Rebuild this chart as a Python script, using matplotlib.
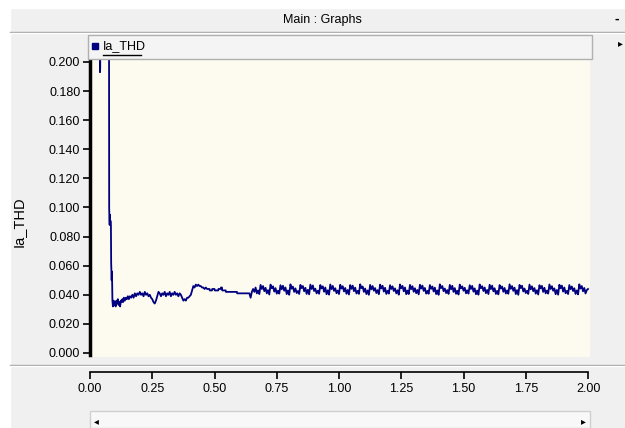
import numpy as np
import matplotlib
matplotlib.use("Agg")
import matplotlib.pyplot as plt
from matplotlib.patches import Rectangle
from matplotlib.lines import Line2D

plt.rcParams['font.family'] = ['Liberation Sans', 'DejaVu Sans']

# start-up transient of Ia_THD (time in s, value in pu)
t_start = [0.000, 0.039, 0.040, 0.041, 0.042, 0.076, 0.077, 0.078, 0.079, 0.080,
           0.081, 0.082, 0.084, 0.085, 0.086, 0.087, 0.088, 0.089, 0.090, 0.092,
           0.095, 0.098, 0.100, 0.103, 0.106, 0.109, 0.112, 0.115, 0.118, 0.121,
           0.124, 0.127, 0.130, 0.133, 0.136, 0.140, 0.144, 0.148, 0.152, 0.156,
           0.160, 0.165, 0.170, 0.175, 0.180, 0.185, 0.190, 0.195, 0.200, 0.205,
           0.210, 0.215, 0.220, 0.225, 0.230, 0.235, 0.240, 0.245, 0.250, 0.255,
           0.260, 0.265, 0.270, 0.275, 0.280, 0.285, 0.290, 0.295, 0.300, 0.305,
           0.310, 0.315, 0.320, 0.325, 0.330, 0.335, 0.340, 0.345, 0.350, 0.355,
           0.360, 0.365, 0.370, 0.375, 0.380, 0.385, 0.390, 0.395, 0.400, 0.405,
           0.410, 0.415, 0.420, 0.425, 0.430, 0.435, 0.440, 0.445, 0.450, 0.455,
           0.460, 0.465, 0.470, 0.480, 0.481, 0.490, 0.491, 0.500, 0.501, 0.515,
           0.516, 0.525, 0.526, 0.530, 0.531, 0.545, 0.546, 0.590, 0.591, 0.640,
           0.645, 0.650, 0.655, 0.660, 0.665, 0.670, 0.675]
v_start = [0.300, 0.300, 0.193, 0.196, 0.300, 0.300, 0.100, 0.092, 0.088, 0.095,
           0.089, 0.091, 0.088, 0.062, 0.055, 0.050, 0.056, 0.048, 0.036, 0.032,
           0.036, 0.033, 0.035, 0.032, 0.036, 0.034, 0.037, 0.033, 0.035, 0.032,
           0.036, 0.035, 0.037, 0.035, 0.038, 0.036, 0.038, 0.037, 0.039, 0.037,
           0.039, 0.038, 0.040, 0.038, 0.041, 0.039, 0.041, 0.040, 0.042, 0.040,
           0.041, 0.039, 0.042, 0.040, 0.041, 0.039, 0.040, 0.038, 0.037, 0.035,
           0.034, 0.036, 0.039, 0.042, 0.041, 0.039, 0.041, 0.040, 0.042, 0.039,
           0.041, 0.040, 0.042, 0.039, 0.041, 0.040, 0.042, 0.040, 0.041, 0.039,
           0.041, 0.040, 0.038, 0.036, 0.037, 0.036, 0.038, 0.038, 0.039, 0.040,
           0.043, 0.046, 0.045, 0.047, 0.046, 0.047, 0.046, 0.046, 0.045, 0.045,
           0.044, 0.045, 0.044, 0.044, 0.043, 0.043, 0.044, 0.044, 0.043, 0.043,
           0.044, 0.044, 0.045, 0.045, 0.043, 0.043, 0.042, 0.042, 0.041, 0.041,
           0.038, 0.042, 0.044, 0.042, 0.045, 0.041, 0.043]

# steady-state ripple, sampled every 5 ms from 0.680 s to 2.000 s
v_steady = [
    0.0405, 0.0468, 0.0440, 0.0460, 0.0425, 0.0448, 0.0410, 0.0432,
    0.0402, 0.0470, 0.0445, 0.0458, 0.0422, 0.0446, 0.0408, 0.0428,
    0.0408, 0.0466, 0.0438, 0.0462, 0.0428, 0.0450, 0.0405, 0.0430,
    0.0400, 0.0472, 0.0442, 0.0456, 0.0420, 0.0444, 0.0412, 0.0426,
    0.0406, 0.0468, 0.0446, 0.0460, 0.0424, 0.0448, 0.0406, 0.0434,
    0.0403, 0.0470, 0.0440, 0.0464, 0.0426, 0.0442, 0.0410, 0.0428,
    0.0407, 0.0467, 0.0444, 0.0458, 0.0421, 0.0450, 0.0404, 0.0431,
    0.0401, 0.0471, 0.0439, 0.0461, 0.0427, 0.0445, 0.0411, 0.0429,
    0.0405, 0.0469, 0.0443, 0.0459, 0.0423, 0.0447, 0.0407, 0.0433,
    0.0402, 0.0467, 0.0441, 0.0463, 0.0425, 0.0449, 0.0409, 0.0427,
    0.0406, 0.0472, 0.0446, 0.0457, 0.0420, 0.0443, 0.0405, 0.0430,
    0.0400, 0.0468, 0.0438, 0.0460, 0.0428, 0.0446, 0.0412, 0.0432,
    0.0404, 0.0470, 0.0444, 0.0462, 0.0422, 0.0448, 0.0406, 0.0428,
    0.0408, 0.0466, 0.0440, 0.0458, 0.0426, 0.0444, 0.0410, 0.0431,
    0.0401, 0.0471, 0.0445, 0.0461, 0.0424, 0.0450, 0.0404, 0.0429,
    0.0405, 0.0468, 0.0439, 0.0459, 0.0421, 0.0445, 0.0411, 0.0433,
    0.0403, 0.0469, 0.0443, 0.0463, 0.0427, 0.0447, 0.0408, 0.0427,
    0.0407, 0.0467, 0.0441, 0.0457, 0.0423, 0.0449, 0.0405, 0.0430,
    0.0400, 0.0472, 0.0446, 0.0460, 0.0425, 0.0443, 0.0412, 0.0432,
    0.0406, 0.0468, 0.0438, 0.0462, 0.0420, 0.0446, 0.0407, 0.0428,
    0.0402, 0.0470, 0.0444, 0.0458, 0.0428, 0.0448, 0.0410, 0.0431,
    0.0408, 0.0466, 0.0440, 0.0461, 0.0422, 0.0444, 0.0404, 0.0429,
    0.0401, 0.0471, 0.0445, 0.0459, 0.0426, 0.0450, 0.0411, 0.0433,
    0.0405, 0.0469, 0.0439, 0.0463, 0.0424, 0.0445, 0.0406, 0.0427,
    0.0403, 0.0467, 0.0443, 0.0457, 0.0421, 0.0447, 0.0409, 0.0430,
    0.0407, 0.0472, 0.0441, 0.0460, 0.0427, 0.0449, 0.0405, 0.0432,
    0.0400, 0.0468, 0.0446, 0.0462, 0.0423, 0.0443, 0.0412, 0.0428,
    0.0406, 0.0470, 0.0438, 0.0458, 0.0425, 0.0446, 0.0408, 0.0431,
    0.0402, 0.0466, 0.0444, 0.0461, 0.0420, 0.0448, 0.0410, 0.0429,
    0.0408, 0.0471, 0.0440, 0.0459, 0.0428, 0.0444, 0.0404, 0.0433,
    0.0401, 0.0469, 0.0445, 0.0463, 0.0422, 0.0450, 0.0411, 0.0427,
    0.0405, 0.0467, 0.0439, 0.0457, 0.0426, 0.0445, 0.0406, 0.0430,
    0.0403, 0.0472, 0.0443, 0.0460, 0.0424, 0.0447, 0.0409, 0.0432,
    0.0440]
t_steady = np.round(0.680 + 0.005 * np.arange(len(v_steady)), 3)

t = np.concatenate([t_start, t_steady])
ia_thd = np.concatenate([v_start, v_steady])

y_ticks = [0.000, 0.020, 0.040, 0.060, 0.080, 0.100, 0.120, 0.140, 0.160, 0.180, 0.200]
x_ticks = [0.00, 0.25, 0.50, 0.75, 1.00, 1.25, 1.50, 1.75, 2.00]

W, H = 625, 428
def box(x0, y0, x1, y1):
    # pixel box (top-left origin) -> figure fraction rect
    return [x0 / W, 1 - y1 / H, (x1 - x0) / W, (y1 - y0) / H]

fig = plt.figure(figsize=(W / 100, H / 100), dpi=100)
fig.patch.set_facecolor('#f0f0f0')

# white outer margin, title bar
fig.patches.append(Rectangle((0, 0), 10 / W, 1, transform=fig.transFigure, color='white', zorder=-5))
fig.patches.append(Rectangle((0, 1 - 8 / H), 1, 8 / H, transform=fig.transFigure, color='white', zorder=-5))
fig.lines.append(Line2D([10 / W, 1], [1 - 32 / H] * 2, transform=fig.transFigure, color='#a0a0a0', lw=1))
fig.lines.append(Line2D([10 / W, 1], [1 - 33 / H] * 2, transform=fig.transFigure, color='white', lw=1))
fig.text(322 / W, 1 - 20 / H, 'Main : Graphs', ha='center', va='center', fontsize=9)
fig.text(617 / W, 1 - 19 / H, '-', ha='center', va='center', fontsize=10, fontweight='bold')
fig.text(620 / W, 1 - 43 / H, '\u25b8', ha='center', va='center', fontsize=7)

# legend strip
fig.patches.append(Rectangle((88 / W, 1 - 59 / H), 504 / W, 24 / H, transform=fig.transFigure,
                             facecolor='#f4f4f4', edgecolor='#b0b0b0', lw=1, zorder=1))
fig.patches.append(Rectangle((92 / W, 1 - 49 / H), 6 / W, 6 / H, transform=fig.transFigure,
                             color='#000080', zorder=2))
fig.text(103 / W, 1 - 46 / H, 'Ia_THD', ha='left', va='center', fontsize=9)
fig.lines.append(Line2D([103 / W, 141 / W], [1 - 55 / H] * 2, transform=fig.transFigure, color='black', lw=1))

# plot area
ax = fig.add_axes(box(90, 60, 590, 357))
ax.set_facecolor('#fdfbef')
ax.plot(t, ia_thd, color='#000080', lw=1.3)
ax.set_xlim(0, 2.008)
ax.set_ylim(-0.00275, 0.20137)
ax.set_yticks(y_ticks)
ax.set_yticklabels(['%.3f' % v for v in y_ticks], fontsize=9)
ax.set_xticks([])
for s in ['top', 'right', 'bottom']:
    ax.spines[s].set_visible(False)
ax.spines['left'].set_linewidth(2.5)
ax.spines['left'].set_bounds(-0.0014, 0.20137)
ax.tick_params(axis='y', direction='out', length=5, width=1.2, pad=2)
ax.set_ylabel('Ia_THD', fontsize=10.5)
ax.yaxis.set_label_coords(-64 / 500, 0.455)

# separator below graph
fig.lines.append(Line2D([10 / W, 1], [1 - 365 / H] * 2, transform=fig.transFigure, color='#a0a0a0', lw=1))
fig.lines.append(Line2D([10 / W, 1], [1 - 366 / H] * 2, transform=fig.transFigure, color='white', lw=1))

# time axis
axx = fig.add_axes(box(90, 371, 590, 372))
axx.set_xlim(0, 2.008)
axx.set_facecolor('none')
axx.set_yticks([])
axx.set_xticks(x_ticks)
axx.set_xticklabels(['%.2f' % v for v in x_ticks], fontsize=9)
for s in ['top', 'right', 'left']:
    axx.spines[s].set_visible(False)
axx.spines['bottom'].set_linewidth(1.2)
axx.spines['bottom'].set_bounds(0, 2.0)
axx.tick_params(axis='x', direction='out', length=5, width=1.2, pad=3)

# scrollbar
fig.patches.append(Rectangle((90 / W, 0), 500 / W, 17 / H, transform=fig.transFigure,
                             facecolor='#f8f8f8', edgecolor='#d0d0d0', lw=1, zorder=1))
fig.text(96 / W, 1 - 421 / H, '\u25c2', ha='center', va='center', fontsize=7)
fig.text(583 / W, 1 - 421 / H, '\u25b8', ha='center', va='center', fontsize=7)

fig.savefig('out.png', dpi=100, facecolor=fig.get_facecolor())
